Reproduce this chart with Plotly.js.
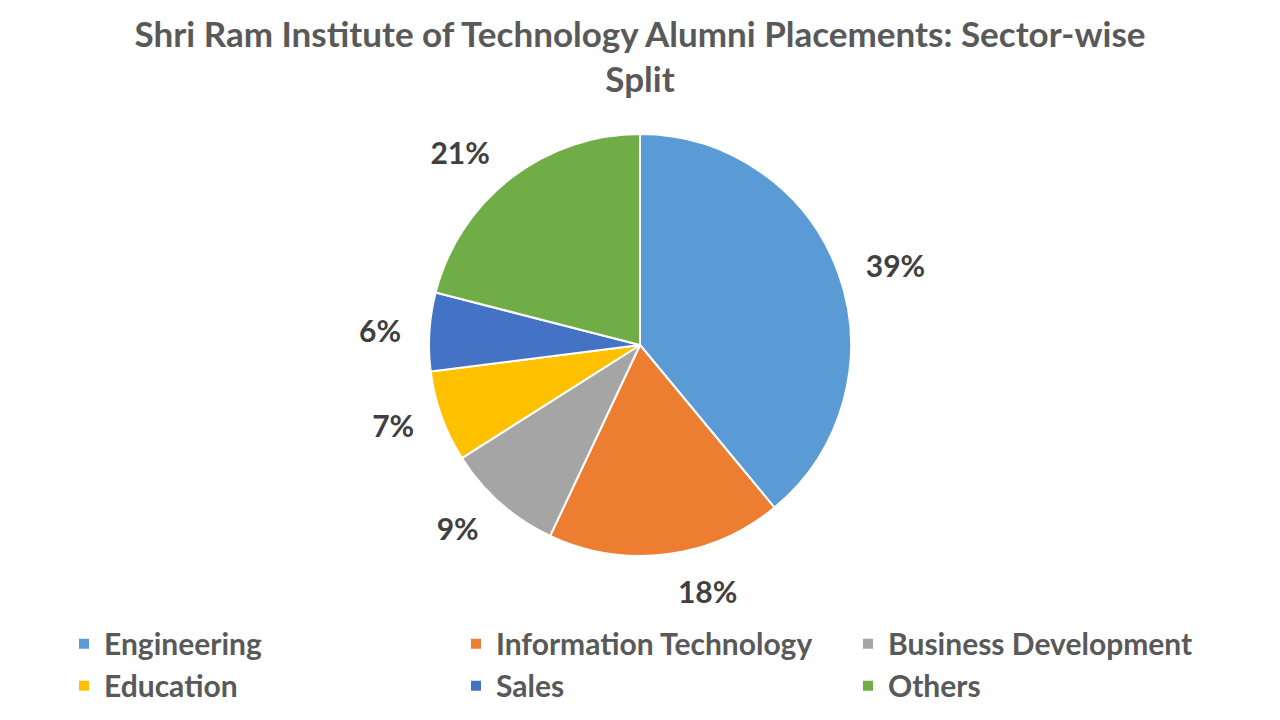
<!DOCTYPE html>
<html>
<head>
<meta charset="utf-8">
<script src="https://cdn.plot.ly/plotly-3.0.1.min.js"></script>
<style>
  html, body { margin: 0; padding: 0; background: #fff; }
  #chart { width: 1280px; height: 720px; }
</style>
</head>
<body>
<div id="chart"></div>
<script>
// Sector-wise split of alumni placements (%)
const sectors = ['Engineering', 'Information Technology', 'Business Development', 'Education', 'Sales', 'Others'];
const shares = [39, 18, 9, 7, 6, 21];
const sectorColors = ['#5B9BD5', '#ED7D31', '#A5A5A5', '#FFC000', '#4472C4', '#70AD47'];

const font = 'Lato, "Open Sans", sans-serif';

// the visible pie
const pie = {
    type: 'pie',
    labels: sectors,
    values: shares,
    sort: false,
    direction: 'clockwise',
    rotation: 0,
    marker: { colors: sectorColors, line: { color: '#ffffff', width: 2 } },
    textinfo: 'none',
    hoverinfo: 'label+percent',
    domain: { x: [0.3, 0.7], y: [0.2278, 0.8139] }
};

// a slightly bigger, invisible copy that only carries the outside labels,
// so they sit a bit farther from the rim as in the original
const labelPie = {
    type: 'pie',
    labels: sectors,
    values: shares,
    sort: false,
    direction: 'clockwise',
    rotation: 0,
    showlegend: false,
    hoverinfo: 'skip',
    marker: { colors: sectors.map(() => 'rgba(0,0,0,0)'), line: { width: 0 } },
    textposition: 'outside',
    texttemplate: '%{value}%',
    textfont: { family: font, size: 30, color: '#404040', weight: 'bold' },
    domain: { x: [0.3, 0.7], y: [0.2008, 0.8408] }
};

Plotly.newPlot('chart', [pie, labelPie], {
    width: 1280,
    height: 720,
    margin: { l: 0, r: 0, t: 0, b: 0 },
    paper_bgcolor: '#ffffff',
    title: {
        text: 'Shri Ram Institute of Technology Alumni Placements: Sector-wise<br>Split',
        font: { family: font, size: 35, color: '#595959', weight: 'bold' },
        x: 0.5, xanchor: 'center',
        y: 0.935, yref: 'container', yanchor: 'top'
    },
    showlegend: true,
    legend: {
        orientation: 'h',
        x: 0.05, xanchor: 'left',
        y: 0.142, yanchor: 'top',
        entrywidth: 347, entrywidthmode: 'pixels',
        tracegroupgap: 0,
        font: { family: font, size: 30, color: '#595959', weight: 'bold' },
        itemwidth: 30
    }
}, { displayModeBar: false, staticPlot: true });
</script>
</body>
</html>
